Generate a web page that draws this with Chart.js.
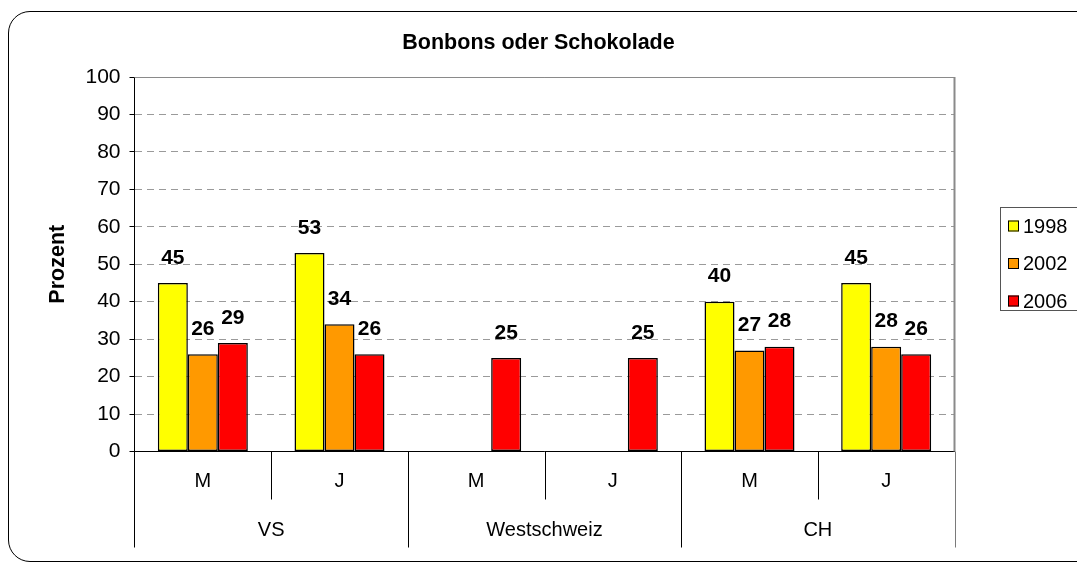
<!DOCTYPE html>
<html>
<head>
<meta charset="utf-8">
<script src="https://cdn.jsdelivr.net/npm/chart.js@4"></script>
<style>
  html, body { margin: 0; padding: 0; background: #fff; }
  #wrap { position: relative; width: 1077px; height: 565px; overflow: hidden; background: #fff; }
  #frame { position: absolute; left: 8px; top: 10.5px; width: 1120px; height: 551px;
           border: 1.5px solid #000; border-radius: 22px; box-sizing: border-box; }
  #c { position: absolute; left: 0; top: 0; }
</style>
</head>
<body>
<div id="wrap">
  <div id="frame"></div>
  <canvas id="c" width="1077" height="565"></canvas>
</div>
<script>
const chartTitle = 'Bonbons oder Schokolade';
const yTitle = 'Prozent';
const subCategories = ['M', 'J', 'M', 'J', 'M', 'J'];
const groups = ['VS', 'Westschweiz', 'CH'];
const seriesNames = ['1998', '2002', '2006'];
const values1998 = [45, 53, null, null, 40, 45];
const values2002 = [26, 34, null, null, 27, 28];
const values2006 = [29, 26, 25, 25, 28, 26];
const yTicks = [0, 10, 20, 30, 40, 50, 60, 70, 80, 90, 100];
const colors = ['#FFFF00', '#FF9900', '#FF0000'];

const FONT = "'Liberation Sans', Arial, sans-serif";

const dataLabels = {
  id: 'dataLabels',
  afterDatasetsDraw(chart) {
    const ctx = chart.ctx;
    ctx.save();
    ctx.font = 'bold 21px ' + FONT;
    ctx.fillStyle = '#000';
    ctx.textAlign = 'center';
    ctx.textBaseline = 'middle';
    chart.data.datasets.forEach((ds, di) => {
      const meta = chart.getDatasetMeta(di);
      meta.data.forEach((el, i) => {
        const v = ds.data[i];
        if (v === null || v === undefined) return;
        ctx.fillText(String(v), el.x, el.y - 25);
      });
    });
    ctx.restore();
  }
};

const plotFrame = {
  id: 'plotFrame',
  beforeDatasetsDraw(chart) {
    const {ctx, chartArea: a} = chart;
    ctx.save();
    ctx.strokeStyle = '#8a8a8a';
    ctx.lineWidth = 1;
    ctx.beginPath();
    ctx.moveTo(a.left, Math.round(a.top) + 0.5);
    ctx.lineTo(a.right, Math.round(a.top) + 0.5);
    ctx.stroke();
    ctx.lineWidth = 2;
    ctx.beginPath();
    ctx.moveTo(a.right, a.top);
    ctx.lineTo(a.right, a.bottom);
    ctx.stroke();
    ctx.restore();
  },
  afterDraw(chart) {
    const {ctx, chartArea: a} = chart;
    const xs = chart.scales.x, x2 = chart.scales.x2;
    const half = (xs.getPixelForValue(1) - xs.getPixelForValue(0)) / 2;
    ctx.save();
    ctx.lineWidth = 1;
    for (let i = 0; i <= subCategories.length; i++) {
      const px = i < subCategories.length ? xs.getPixelForValue(i) - half : xs.getPixelForValue(i - 1) + half;
      const bottom = (i % 2 === 0) ? x2.bottom : xs.bottom;
      const xx = Math.round(px) + 0.5;
      ctx.strokeStyle = (i === subCategories.length) ? '#7a7a7a' : '#000';
      ctx.beginPath();
      ctx.moveTo(xx, a.bottom);
      ctx.lineTo(xx, bottom);
      ctx.stroke();
    }
    // legend
    const lx = 1000.5, ly = 207.5;
    ctx.strokeStyle = '#555';
    ctx.lineWidth = 1;
    ctx.strokeRect(lx, ly, 120, 103);
    ctx.font = '20px ' + FONT;
    ctx.textAlign = 'left';
    ctx.textBaseline = 'middle';
    chart.data.datasets.forEach((ds, i) => {
      const cy = 226 + i * 37.5;
      ctx.fillStyle = ds.backgroundColor;
      ctx.fillRect(1008, cy - 5.5, 11, 11);
      ctx.strokeStyle = '#000';
      ctx.strokeRect(1008.5, cy - 5, 10, 10);
      ctx.fillStyle = '#000';
      ctx.fillText(ds.label, 1023, cy + 1);
    });
    ctx.restore();
  }
};

const datasets = [values1998, values2002, values2006].map((vals, i) => ({
  label: seriesNames[i],
  data: vals,
  backgroundColor: colors[i],
  borderColor: '#000',
  borderWidth: 1.5,
  borderSkipped: false,
  categoryPercentage: 0.6585,
  barPercentage: 1.0,
  xAxisID: 'x',
  yAxisID: 'y'
}));

new Chart(document.getElementById('c'), {
  type: 'bar',
  data: { labels: subCategories, datasets },
  options: {
    responsive: false,
    animation: false,
    devicePixelRatio: 1,
    layout: { padding: { left: 0, right: 0, top: 0, bottom: 17.5 } },
    plugins: {
      legend: { display: false },
      tooltip: { enabled: false },
      title: {
        display: true,
        text: chartTitle,
        color: '#000',
        font: { family: FONT, size: 21.5, weight: 'bold', lineHeight: 1.2 },
        padding: { top: 30.6, bottom: 20.6 }
      }
    },
    scales: {
      x: {
        type: 'category',
        position: 'bottom',
        weight: 0,
        offset: true,
        labels: subCategories,
        grid: { display: false, drawTicks: false },
        border: { display: true, color: '#000', width: 1 },
        ticks: { color: '#000', font: { family: FONT, size: 20 }, padding: 18, maxRotation: 0, autoSkip: false },
        afterFit(s) { s.height = 48; }
      },
      x2: {
        type: 'category',
        position: 'bottom',
        weight: 1,
        offset: true,
        labels: groups,
        grid: { display: false, drawTicks: false },
        border: { display: false },
        ticks: { color: '#000', font: { family: FONT, size: 20 }, padding: 18.5, maxRotation: 0, autoSkip: false },
        afterFit(s) { s.height = 48; }
      },
      y: {
        min: 0,
        max: 100,
        afterBuildTicks(s) { s.ticks = yTicks.map(v => ({ value: v })); },
        grid: {
          color: '#9a9a9a',
          tickBorderDash: [],
          tickColor: '#000',
          tickLength: 5,
          drawTicks: true
        },
        border: { display: true, color: '#000', width: 1, dash: [7, 5] },
        ticks: { color: '#000', font: { family: FONT, size: 21 }, padding: 9 },
        title: {
          display: true,
          text: yTitle,
          color: '#000',
          font: { family: FONT, size: 21.5, weight: 'bold', lineHeight: 1.2 },
          padding: { top: 45.4, bottom: 0 }
        },
        afterFit(s) { s.width = 134.5; }
      },
      yRight: {
        position: 'right',
        display: true,
        min: 0,
        max: 100,
        grid: { display: false, drawTicks: false },
        border: { display: false },
        ticks: { display: false },
        afterFit(s) { s.width = 122.5; }
      }
    }
  },
  plugins: [dataLabels, plotFrame]
});
</script>
</body>
</html>
